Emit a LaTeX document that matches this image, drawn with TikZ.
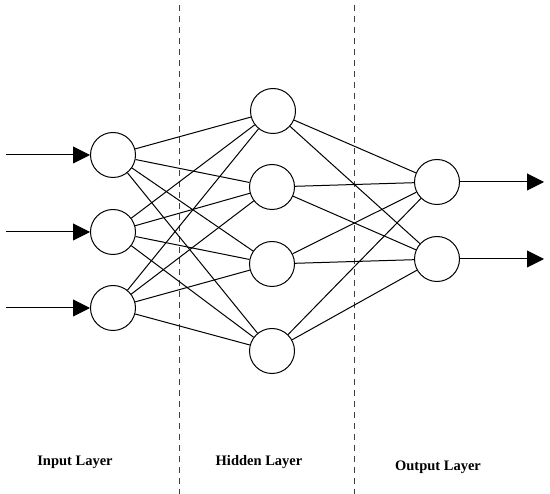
\documentclass[tikz,border=0pt]{standalone}
\usepackage{fontspec}
\setmainfont{Liberation Serif}
\usetikzlibrary{arrows.meta}

\tikzset{
	neuron/.style = {circle, draw, line width = 1pt, fill = white, minimum size = 45pt, inner sep = 0pt},
	link/.style = {line width = 1pt},
	signal/.style = {line width = 1pt, -{Triangle[length=17pt, width=17pt]}},
	divider/.style = {line width = 1pt, black!75, dash pattern = on 6pt off 5pt},
	layername/.style = {font = \fontsize{14.5}{16}\selectfont\bfseries}
}

\begin{document}
\begin{tikzpicture}[x = 1pt, y = -1pt]

	\useasboundingbox (0, 0) rectangle (550, 494);

	% Dividers

	\draw [divider] (179, 5) -- (179, 494);
	\draw [divider] (354, 5) -- (354, 494);

	% Input layer

	\node [neuron] (i1) at (113, 155) {};
	\node [neuron] (i2) at (113, 232) {};
	\node [neuron] (i3) at (113, 308) {};

	% Hidden layer

	\node [neuron] (h1) at (273, 111) {};
	\node [neuron] (h2) at (272, 187) {};
	\node [neuron] (h3) at (272, 264) {};
	\node [neuron] (h4) at (272, 351) {};

	% Output layer

	\node [neuron] (o1) at (437, 182) {};
	\node [neuron] (o2) at (437, 259) {};

	% Links

	\draw [link] (i1) -- (h1) (i1) -- (h2) (i1) -- (h3) (i1) -- (h4);
	\draw [link] (i2) -- (h1) (i2) -- (h2) (i2) -- (h3) (i2) -- (h4);
	\draw [link] (i3) -- (h1) (i3) -- (h2) (i3) -- (h3) (i3) -- (h4);
	\draw [link] (h1) -- (o1) (h1) -- (o2);
	\draw [link] (h2) -- (o1) (h2) -- (o2);
	\draw [link] (h3) -- (o1) (h3) -- (o2);
	\draw [link] (h4) -- (o1) (h4) -- (o2);

	% Signals in and out

	\coordinate (s1) at (6, 155);
	\coordinate (s2) at (6, 232);
	\coordinate (s3) at (6, 308);
	\coordinate (t1) at (544, 182);
	\coordinate (t2) at (544, 259);

	\draw [signal] (s1) -- (i1);
	\draw [signal] (s2) -- (i2);
	\draw [signal] (s3) -- (i3);
	\draw [signal] (o1) -- (t1);
	\draw [signal] (o2) -- (t2);

	% Labels

	\node [layername] (lin) at (75, 462) {Input Layer};
	\node [layername] (lhid) at (259, 462) {Hidden Layer};
	\node [layername] (lout) at (438, 467) {Output Layer};

\end{tikzpicture}
\end{document}
